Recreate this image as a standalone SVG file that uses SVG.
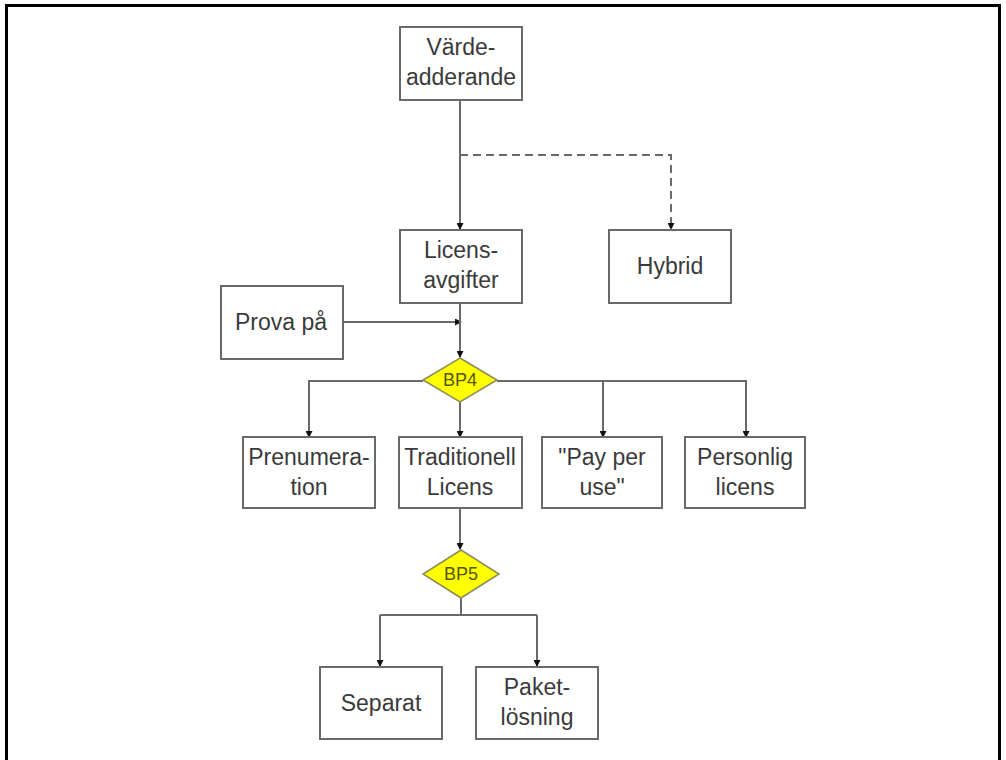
<svg xmlns="http://www.w3.org/2000/svg" width="1006" height="760" viewBox="0 0 1006 760">
  <style>
    .box { fill: #ffffff; stroke: #6a6a6a; stroke-width: 2; }
    .dec { fill: #ffff00; stroke: #8a8a5a; stroke-width: 1.5; }
    .lbl { font-family: "Liberation Sans", Arial, sans-serif; font-size: 23px; fill: #3a3a3a; text-anchor: middle; }
    .dlbl { font-family: "Liberation Sans", Arial, sans-serif; font-size: 18px; fill: #555500; text-anchor: middle; }
    .wire { fill: none; stroke: #6a6a6a; stroke-width: 2; }
    .dash { stroke-dasharray: 8 5; }
    .frame { fill: none; stroke: #000000; stroke-width: 3; }
  </style>
  <defs>
    <marker id="arr" markerWidth="7" markerHeight="7" refX="6" refY="3.5" orient="auto" markerUnits="userSpaceOnUse">
      <path d="M0,0 L7,3.5 L0,7 Z" fill="#111111"/>
    </marker>
  </defs>
  <rect width="1006" height="760" fill="#ffffff"/>
  <!-- page frame -->
  <path class="frame" d="M6.5,760 V5.5 H999.5 V760"/>

  <g id="connectors">
    <path class="wire" d="M460,100 V229" marker-end="url(#arr)"/>
    <path class="wire dash" d="M460,155 H671 V229" marker-end="url(#arr)"/>
    <path class="wire" d="M343,322 H461" marker-end="url(#arr)"/>
    <path class="wire" d="M460,303 V357" marker-end="url(#arr)"/>
    <path class="wire" d="M423,381 H309 V437" marker-end="url(#arr)"/>
    <path class="wire" d="M460,402 V437" marker-end="url(#arr)"/>
    <path class="wire" d="M497,381 H746 V437" marker-end="url(#arr)"/>
    <path class="wire" d="M603,381 V437" marker-end="url(#arr)"/>
    <path class="wire" d="M460,508 V549" marker-end="url(#arr)"/>
    <path class="wire" d="M461,598 V615 M380,615 H537"/>
    <path class="wire" d="M380,615 V666" marker-end="url(#arr)"/>
    <path class="wire" d="M537,615 V666" marker-end="url(#arr)"/>
  </g>

  <g id="vardeadderande">
    <rect class="box" x="400" y="27" width="122" height="73"/>
    <text class="lbl" x="461" y="55">Värde-</text>
    <text class="lbl" x="461" y="85">adderande</text>
  </g>
  <g id="licensavgifter">
    <rect class="box" x="400" y="230" width="122" height="73"/>
    <text class="lbl" x="461" y="258">Licens-</text>
    <text class="lbl" x="461" y="288">avgifter</text>
  </g>
  <g id="hybrid">
    <rect class="box" x="609" y="230" width="122" height="73"/>
    <text class="lbl" x="670" y="274">Hybrid</text>
  </g>
  <g id="provapa">
    <rect class="box" x="221" y="286" width="122" height="73"/>
    <text class="lbl" x="281" y="330">Prova på</text>
  </g>
  <g id="bp4">
    <polygon class="dec" points="460,358 497,380 460,402 423,380"/>
    <text class="dlbl" x="460" y="386">BP4</text>
  </g>
  <g id="prenumeration">
    <rect class="box" x="243" y="437" width="132" height="71"/>
    <text class="lbl" x="309" y="465">Prenumera-</text>
    <text class="lbl" x="309" y="495">tion</text>
  </g>
  <g id="traditionell">
    <rect class="box" x="399" y="437" width="123" height="71"/>
    <text class="lbl" x="460" y="465">Traditionell</text>
    <text class="lbl" x="460" y="495">Licens</text>
  </g>
  <g id="payperuse">
    <rect class="box" x="542" y="437" width="120" height="71"/>
    <text class="lbl" x="602" y="465">"Pay per</text>
    <text class="lbl" x="602" y="495">use"</text>
  </g>
  <g id="personlig">
    <rect class="box" x="685" y="437" width="120" height="71"/>
    <text class="lbl" x="745" y="465">Personlig</text>
    <text class="lbl" x="745" y="495">licens</text>
  </g>
  <g id="bp5">
    <polygon class="dec" points="461,550 499,574 461,598 423,574"/>
    <text class="dlbl" x="461" y="580">BP5</text>
  </g>
  <g id="separat">
    <rect class="box" x="320" y="667" width="122" height="72"/>
    <text class="lbl" x="381" y="711">Separat</text>
  </g>
  <g id="paketlosning">
    <rect class="box" x="476" y="667" width="122" height="72"/>
    <text class="lbl" x="537" y="695">Paket-</text>
    <text class="lbl" x="537" y="725">lösning</text>
  </g>
</svg>
